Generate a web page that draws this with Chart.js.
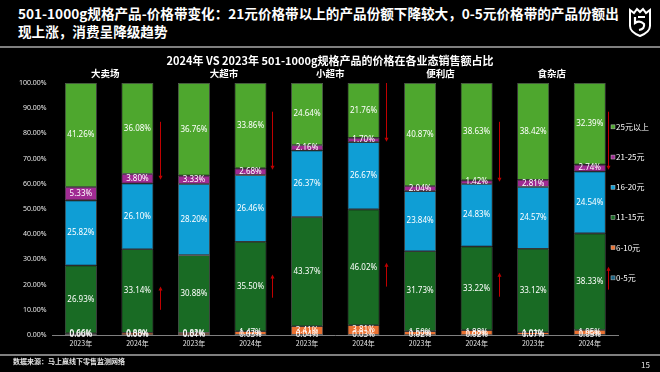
<!DOCTYPE html>
<html>
<head>
<meta charset="utf-8">
<script src="https://cdn.jsdelivr.net/npm/chart.js@4"></script>
<style>
  html, body { margin: 0; padding: 0; background: #000; }
  body { width: 660px; height: 372px; position: relative; overflow: hidden; font-family: "Noto Sans CJK SC", "Noto Sans", sans-serif; color: #fff; }
  .headline { position: absolute; left: 18px; top: 4px; width: 610px; font-size: 13.6px; font-weight: bold; line-height: 18px; color: #fff; }
  .rule { position: absolute; left: 0; width: 660px; height: 2px; background: #7f7f7f; }
  .source { position: absolute; left: 13px; top: 356px; font-size: 7px; font-weight: bold; color: #e6e6e6; }
  .page { position: absolute; left: 641px; top: 359px; font-size: 8px; color: #e6e6e6; }
  .logo { position: absolute; left: 627px; top: 7px; }
  .wrap { position: absolute; left: 0; top: 50px; width: 660px; height: 305px; }
</style>
</head>
<body>
<div class="headline">501-1000g规格产品-价格带变化：21元价格带以上的产品份额下降较大，0-5元价格带的产品份额出<br>现上涨，消费呈降级趋势</div>
<svg class="logo" width="26" height="30" viewBox="0 0 26 30">
  <path d="M3 3 L7 6 L10 2 L13 5 L16 2 L19 6 L23 3 L23 19 Q23 25 13 29 Q3 25 3 19 Z" fill="none" stroke="#fff" stroke-width="2"/>
  <path d="M8 10 L8 16 Q13 13 17 17 Q18 22 12 23 M18 10 L11 10" fill="none" stroke="#fff" stroke-width="2.2"/>
</svg>
<div class="rule" style="top:46px"></div>
<div class="wrap"><canvas id="priceChart"></canvas></div>
<div class="rule" style="top:354px"></div>
<div class="source">数据来源：马上赢线下零售监测网络</div>
<div class="page">15</div>

<script>
const groups = ["大卖场", "大超市", "小超市", "便利店", "食杂店"];
const years = ["2023年", "2024年"];
const bands = ["0-5元", "6-10元", "11-15元", "16-20元", "21-25元", "25元以上"];

const band0to5 = [0.00, 0.00, 0.01, 0.03, 0.04, 0.03, 0.02, 0.02, 0.07, 0.05];
const band6to10 = [0.66, 0.88, 0.82, 1.47, 3.41, 3.81, 1.50, 1.88, 1.01, 1.95];
const band11to15 = [26.93, 33.14, 30.88, 35.50, 43.37, 46.02, 31.73, 33.22, 33.12, 38.33];
const band16to20 = [25.82, 26.10, 28.20, 26.46, 26.37, 26.67, 23.84, 24.83, 24.57, 24.54];
const band21to25 = [5.33, 3.80, 3.33, 2.68, 2.16, 1.70, 2.04, 1.42, 2.81, 2.74];
const band25up = [41.26, 36.08, 36.76, 33.86, 24.64, 21.76, 40.87, 38.63, 38.42, 32.39];

const bandColors = ["#156082", "#E97132", "#196B24", "#0F9ED5", "#A02B93", "#4EA72E"];

// group name nudges, in category widths (text boxes are not quite centred)
const groupShift = [-0.07, 0.03, -0.09, -0.14, -0.17];

// arrows: bar index, offset in category widths, from / to in %
const arrows = [
  { bar: 1, dx: 0.4, from: 84.6, to: 61.6 },
  { bar: 3, dx: 0.38, from: 88.6, to: 65.6 },
  { bar: 5, dx: 0.4, from: 100, to: 76.7 },
  { bar: 7, dx: 0.4, from: 84.6, to: 60.8 },
  { bar: 9, dx: 0.33, from: 88.6, to: 65.6 },
  { bar: 1, dx: 0.4, from: 10.0, to: 19.2 },
  { bar: 3, dx: 0.38, from: 14.8, to: 24.0 },
  { bar: 5, dx: 0.4, from: 19.2, to: 28.7 },
  { bar: 7, dx: 0.4, from: 15.2, to: 24.7 },
  { bar: 9, dx: 0.33, from: 18.0, to: 27.1 },
];

const chartTitle = "2024年 VS 2023年 501-1000g规格产品的价格在各业态销售额占比";
const categories = groups.flatMap(() => years);
const seriesValues = [band0to5, band6to10, band11to15, band16to20, band21to25, band25up];

const labelFont = '"Noto Sans", "Noto Sans CJK SC", sans-serif';

// value labels inside the segments
const valueLabels = {
  id: "valueLabels",
  afterDatasetsDraw(chart) {
    const ctx = chart.ctx;
    ctx.save();
    ctx.font = "8px " + labelFont;
    ctx.fillStyle = "#ffffff";
    ctx.textAlign = "center";
    ctx.textBaseline = "middle";
    chart.data.datasets.forEach((ds, di) => {
      chart.getDatasetMeta(di).data.forEach((bar, i) => {
        const y = (bar.y + bar.base) / 2;
        ctx.fillText(ds.data[i].toFixed(2) + "%", bar.x, y);
      });
    });
    ctx.restore();
  },
};

// title, group names, legend and arrows
const decorations = {
  id: "decorations",
  afterDraw(chart) {
    const ctx = chart.ctx;
    const x = chart.scales.x;
    const y = chart.scales.y;
    const area = chart.chartArea;
    const step = x.getPixelForValue(1) - x.getPixelForValue(0);
    ctx.save();
    ctx.fillStyle = "#ffffff";
    ctx.textAlign = "center";
    ctx.textBaseline = "middle";
    ctx.font = 'bold 11px "Noto Sans CJK SC", sans-serif';
    ctx.fillText(chartTitle, 330, 11);
    ctx.font = 'bold 9.5px "Noto Sans CJK SC", sans-serif';
    groups.forEach((g, gi) => {
      const cx = (x.getPixelForValue(gi * 2) + x.getPixelForValue(gi * 2 + 1)) / 2;
      ctx.fillText(g, cx + groupShift[gi] * step, 23);
    });

    // legend
    ctx.textAlign = "left";
    ctx.font = '8px "Noto Sans CJK SC", sans-serif';
    const legendTop = y.getPixelForValue(82.6);
    bands.slice().reverse().forEach((name, k) => {
      const idx = bands.length - 1 - k;
      const ly = legendTop + k * 30.2;
      ctx.fillStyle = bandColors[idx];
      ctx.fillRect(area.right - 7, ly - 2, 4, 4);
      ctx.strokeStyle = "#bfbfbf";
      ctx.lineWidth = 0.5;
      ctx.strokeRect(area.right - 7, ly - 2, 4, 4);
      ctx.fillStyle = "#ffffff";
      ctx.fillText(name, area.right - 2, ly);
    });

    // arrows
    ctx.strokeStyle = "#C00000";
    ctx.fillStyle = "#C00000";
    ctx.lineWidth = 1;
    arrows.forEach((a) => {
      const ax = Math.round(x.getPixelForValue(a.bar) + a.dx * step) + 0.5;
      const y1 = y.getPixelForValue(a.from);
      const y2 = y.getPixelForValue(a.to);
      const dir = y2 > y1 ? 1 : -1;
      ctx.beginPath();
      ctx.moveTo(ax, y1);
      ctx.lineTo(ax, y2 - dir * 3);
      ctx.stroke();
      ctx.beginPath();
      ctx.moveTo(ax, y2);
      ctx.lineTo(ax - 2, y2 - dir * 4);
      ctx.lineTo(ax + 2, y2 - dir * 4);
      ctx.closePath();
      ctx.fill();
    });
    ctx.restore();
  },
};

const priceCtx = document.getElementById("priceChart").getContext("2d");
const priceChart = new Chart(priceCtx, {
  type: "bar",
  data: {
    labels: categories,
    datasets: bands.map((name, i) => ({
      label: name,
      data: seriesValues[i],
      backgroundColor: bandColors[i],
      borderColor: "rgba(255, 255, 255, 0.35)",
      borderWidth: 0.8,
      borderSkipped: false,
      barPercentage: 0.565,
      categoryPercentage: 1,
    })),
  },
  options: {
    responsive: true,
    maintainAspectRatio: false,
    animation: false,
    layout: {
      padding: { top: 33, right: 42, bottom: 2, left: 0 },
    },
    plugins: {
      legend: { display: false },
      title: { display: false },
      tooltip: { enabled: false },
    },
    scales: {
      x: {
        stacked: true,
        grid: { display: false, drawTicks: false },
        border: { display: true, color: "#7f7f7f", width: 1 },
        ticks: {
          color: "#e6e6e6",
          font: { family: '"Noto Sans CJK SC", sans-serif', size: 7 },
          padding: 4,
          maxRotation: 0,
          autoSkip: false,
        },
        afterFit: (scale) => { scale.height = 18; },
      },
      y: {
        stacked: true,
        min: 0,
        max: 100,
        grid: { display: false, drawTicks: false },
        border: { display: false },
        ticks: {
          stepSize: 10,
          color: "#e6e6e6",
          padding: 6,
          font: { family: labelFont, size: 7 },
          callback: (v) => v.toFixed(2) + "%",
        },
        afterFit: (scale) => { scale.width = 52.6; },
      },
    },
  },
  plugins: [valueLabels, decorations],
});
</script>
</body>
</html>
